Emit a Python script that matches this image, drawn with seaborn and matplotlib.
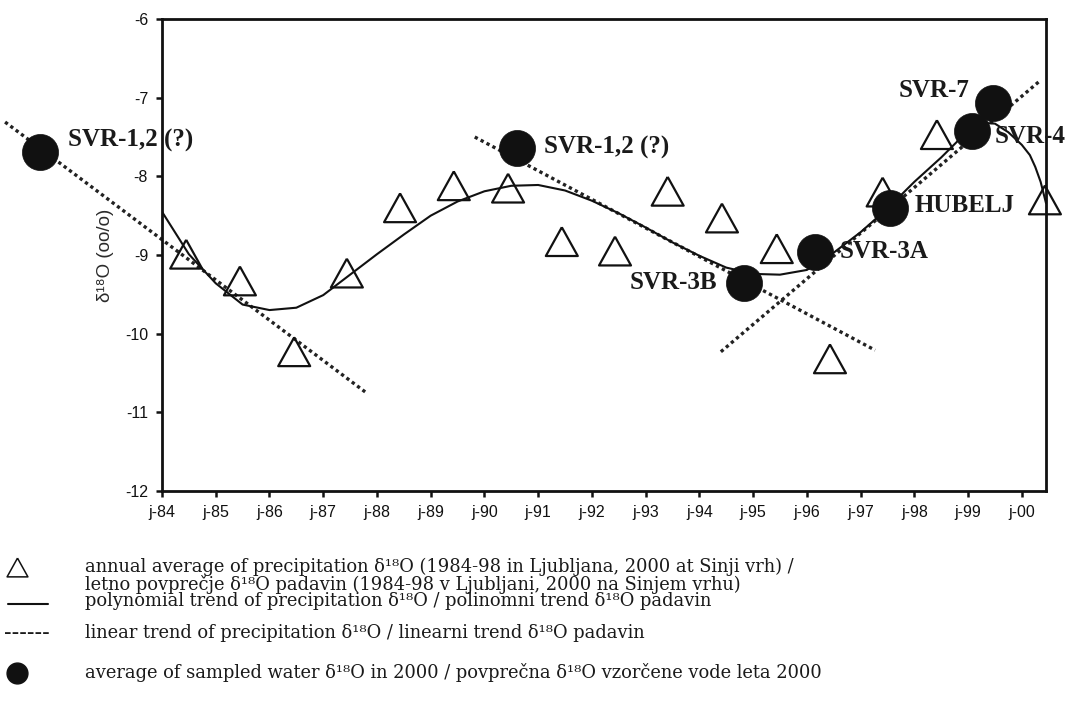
import numpy as np
import pandas as pd
import matplotlib
matplotlib.use("Agg")
import matplotlib.pyplot as plt
import seaborn as sns
from matplotlib.lines import Line2D

# ---------------- data ----------------
tri_year = [1984.45, 1985.45, 1986.46, 1987.44, 1988.43, 1989.43, 1990.44, 1991.44,
            1992.43, 1993.41, 1994.42, 1995.44, 1996.43, 1997.41, 1998.42, 2000.43]
tri_d18o = [-8.99, -9.33, -10.23, -9.23, -8.40, -8.12, -8.15, -8.83,
            -8.95, -8.19, -8.53, -8.92, -10.32, -8.20, -7.47, -8.30]

poly_year = [1984.0, 1984.5, 1985.0, 1985.5, 1986.0, 1986.5, 1987.0, 1987.5, 1988.0,
             1988.5, 1989.0, 1989.5, 1990.0, 1990.5, 1991.0, 1991.5, 1992.0, 1992.5,
             1993.0, 1993.5, 1994.0, 1994.5, 1995.0, 1995.5, 1996.0, 1996.5, 1997.0,
             1997.5, 1998.0, 1998.5, 1999.0, 1999.25, 1999.5, 1999.75, 2000.0,
             2000.15, 2000.25, 2000.35, 2000.45]
poly_d18o = [-8.45, -8.99, -9.36, -9.63, -9.70, -9.67, -9.51, -9.25, -8.99,
             -8.74, -8.50, -8.32, -8.19, -8.12, -8.11, -8.18, -8.31, -8.47,
             -8.65, -8.84, -9.01, -9.16, -9.24, -9.25, -9.19, -8.97, -8.71,
             -8.41, -8.07, -7.76, -7.42, -7.32, -7.33, -7.44, -7.60,
             -7.73, -7.88, -8.07, -8.34]

lin1_year = [1981.08, 1987.78]
lin1_d18o = [-7.31, -10.74]
lin2_year = [1989.82, 1997.27]
lin2_d18o = [-7.50, -10.21]
lin3_year = [1994.40, 2000.33]
lin3_d18o = [-10.23, -6.79]

water_names = ["SVR-1,2 (?)", "SVR-1,2 (?)", "SVR-3B", "SVR-3A", "HUBELJ", "SVR-4", "SVR-7"]
water_year = [1981.73, 1990.60, 1994.83, 1996.15, 1997.54, 1999.07, 1999.46]
water_d18o = [-7.69, -7.64, -9.35, -8.96, -8.40, -7.42, -7.07]

tick_years = list(range(1984, 2001))
tick_labels = ["j-84", "j-85", "j-86", "j-87", "j-88", "j-89", "j-90", "j-91", "j-92",
               "j-93", "j-94", "j-95", "j-96", "j-97", "j-98", "j-99", "j-00"]
y_ticks = [-12, -11, -10, -9, -8, -7, -6]

# ---------------- styling ----------------
sns.set_style("ticks")
plt.rcParams["font.family"] = ["Liberation Sans", "DejaVu Sans"]

W, H = 1075, 707
fig = plt.figure(figsize=(W / 100, H / 100), dpi=100)
fig.patch.set_facecolor("white")
ax = fig.add_axes([162 / W, 1 - 491 / H, (1046 - 162) / W, (491 - 19) / H])
ax.set_facecolor("white")

tri_df = pd.DataFrame({"year": tri_year, "d18o": tri_d18o})
poly_df = pd.DataFrame({"year": poly_year, "d18o": poly_d18o})
water_df = pd.DataFrame({"year": water_year, "d18o": water_d18o, "name": water_names})

dot_style = dict(color="#222222", linewidth=2.4, linestyle=(0, (1.0, 1.0)))

# linear trends
for xs, ys in [(lin1_year, lin1_d18o), (lin2_year, lin2_d18o), (lin3_year, lin3_d18o)]:
    sns.lineplot(x=xs, y=ys, ax=ax, clip_on=False, zorder=2, **dot_style)

# polynomial trend
sns.lineplot(data=poly_df, x="year", y="d18o", ax=ax, color="#111111",
             linewidth=1.5, sort=True, zorder=3)

# annual precipitation averages (slightly wide open triangles)
tri_marker = [(0, 0.9), (-1, -0.9), (1, -0.9), (0, 0.9)]
sns.scatterplot(data=tri_df, x="year", y="d18o", ax=ax, marker=tri_marker, s=23 ** 2,
                facecolor="none", edgecolor="#111111", linewidth=1.6, zorder=4,
                clip_on=False)

# sampled water
sns.scatterplot(data=water_df, x="year", y="d18o", ax=ax, marker="o", s=26 ** 2,
                color="#111111", edgecolor="#111111", linewidth=0.5, zorder=5,
                clip_on=False)

label_offsets = [(20, 8.6, "left"), (20, 0.7, "left"), (-19, 0, "right"),
                 (18, 0, "left"), (18, 1.4, "left"), (16.5, -4.3, "left"),
                 (-16.5, 9.4, "right")]
for name, xv, yv, (dx, dy, ha) in zip(water_names, water_year, water_d18o, label_offsets):
    ax.annotate(name, (xv, yv), xytext=(dx, dy), textcoords="offset points",
                ha=ha, va="center", fontsize=18, fontweight="bold",
                family=["Liberation Serif", "DejaVu Serif"], color="#1a1a1a",
                annotation_clip=False, zorder=6)

ax.set_xlim(1984.0, 2000.45)
ax.set_ylim(-12, -6)
ax.set_xticks(tick_years)
ax.set_xticklabels(tick_labels)
ax.set_yticks(y_ticks)
ax.set_yticklabels([str(v) for v in y_ticks])
ax.tick_params(axis="both", direction="out", length=4, width=1.8, pad=6,
               labelsize=11.5, colors="#111111")
for sp in ax.spines.values():
    sp.set_visible(True)
    sp.set_linewidth(2.0)
    sp.set_color("#111111")
ax.set_xlabel("")
ax.set_ylabel("δ¹⁸O (oo/o)", fontsize=13.5, color="#2a2a2a", labelpad=8)

# ---------------- custom legend below the chart ----------------
def fy(py):
    return 1 - py / H

def fx(px):
    return px / W

leg_font = dict(family=["DejaVu Serif"], fontsize=12.9, color="#1a1a1a", va="center")
fig.text(fx(85), fy(567), "annual average of precipitation δ¹⁸O (1984-98 in Ljubljana, 2000 at Sinji vrh) /", **leg_font)
fig.text(fx(85), fy(584), "letno povprečje δ¹⁸O padavin (1984-98 v Ljubljani, 2000 na Sinjem vrhu)", **leg_font)
fig.text(fx(85), fy(601.5), "polynomial trend of precipitation δ¹⁸O / polinomni trend δ¹⁸O padavin", **leg_font)
fig.text(fx(85), fy(633), "linear trend of precipitation δ¹⁸O / linearni trend δ¹⁸O padavin", **leg_font)
fig.text(fx(85), fy(673), "average of sampled water δ¹⁸O in 2000 / povprečna δ¹⁸O vzorčene vode leta 2000", **leg_font)
fig.text(fx(4), fy(633), "------", family=["DejaVu Serif"], fontsize=16, color="#1a1a1a", va="center")

fig.add_artist(Line2D([fx(17)], [fy(567)], marker=tri_marker, markersize=15,
                      markerfacecolor="white", markeredgecolor="#111111",
                      markeredgewidth=1.1, linestyle="none", transform=fig.transFigure))
fig.add_artist(Line2D([fx(8), fx(48)], [fy(604), fy(604)], color="#111111",
                      linewidth=1.5, transform=fig.transFigure))
fig.add_artist(Line2D([fx(17)], [fy(673)], marker="o", markersize=15,
                      markerfacecolor="#111111", markeredgecolor="#111111",
                      linestyle="none", transform=fig.transFigure))

fig.savefig("out.png", dpi=100, facecolor="white")
